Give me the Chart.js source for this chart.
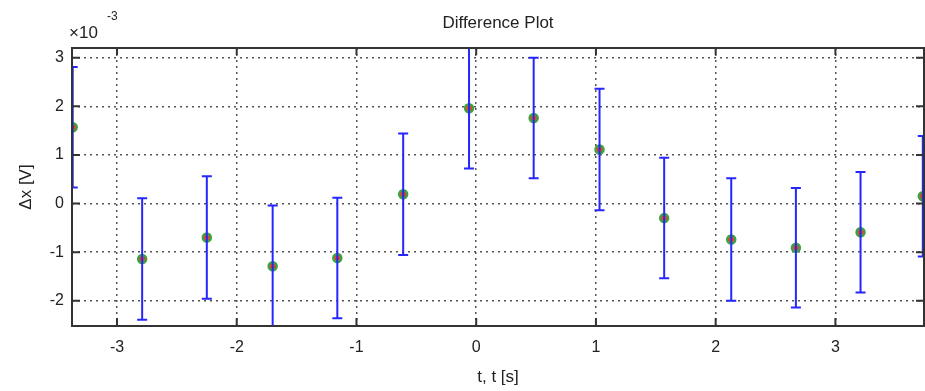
<!DOCTYPE html>
<html>
<head>
<meta charset="utf-8">
<script src="https://cdn.jsdelivr.net/npm/chart.js@4/dist/chart.umd.min.js"></script>
<style>
  html, body { margin: 0; padding: 0; background: #fff; }
  #wrap { width: 925px; height: 391px; }
</style>
</head>
<body>
<div id="wrap"><canvas id="diffPlot"></canvas></div>
<script>
// Difference Plot - delta x con barras de error
const tValues  = [-3.37, -2.79, -2.25, -1.70, -1.16, -0.61, -0.06, 0.48, 1.03, 1.57, 2.13, 2.67, 3.21, 3.73];
const dxValues = [1.57, -1.14, -0.70, -1.29, -1.12, 0.19, 1.96, 1.76, 1.11, -0.30, -0.74, -0.91, -0.59, 0.15]; // x 10^-3 V
const dxErrors = [1.24, 1.25, 1.26, 1.25, 1.24, 1.25, 1.24, 1.24, 1.25, 1.24, 1.26, 1.23, 1.24, 1.24];
const xTicks = [-3, -2, -1, 0, 1, 2, 3];
const yTicks = [-2, -1, 0, 1, 2, 3];

const FONT = "'Liberation Sans', Arial, sans-serif";
const AXIS_COLOR = '#333';

// Barras de error + marco estilo MATLAB
const errorBarPlugin = {
  id: 'errorBars',
  afterDatasetsDraw(chart) {
    const { ctx, chartArea, scales } = chart;
    const xs = scales.x, ys = scales.y;
    ctx.save();
    ctx.beginPath();
    ctx.rect(chartArea.left, chartArea.top, chartArea.right - chartArea.left, chartArea.bottom - chartArea.top);
    ctx.clip();
    ctx.strokeStyle = '#2626ff';
    ctx.lineWidth = 2;
    tValues.forEach((t, i) => {
      const px = xs.getPixelForValue(t);
      const yTop = ys.getPixelForValue(dxValues[i] + dxErrors[i]);
      const yBot = ys.getPixelForValue(dxValues[i] - dxErrors[i]);
      ctx.beginPath();
      ctx.moveTo(px, yTop); ctx.lineTo(px, yBot);
      ctx.moveTo(px - 5, yTop); ctx.lineTo(px + 5, yTop);
      ctx.moveTo(px - 5, yBot); ctx.lineTo(px + 5, yBot);
      ctx.stroke();
    });
    ctx.restore();
  },
  afterDraw(chart) {
    const { ctx, chartArea: a, scales } = chart;
    ctx.save();
    ctx.strokeStyle = AXIS_COLOR;
    ctx.lineWidth = 2;
    ctx.strokeRect(a.left, a.top, a.right - a.left, a.bottom - a.top);
    // ticks hacia adentro
    ctx.beginPath();
    xTicks.forEach(v => {
      const px = scales.x.getPixelForValue(v);
      ctx.moveTo(px, a.bottom); ctx.lineTo(px, a.bottom - 8);
      ctx.moveTo(px, a.top); ctx.lineTo(px, a.top + 7);
    });
    yTicks.forEach(v => {
      const py = scales.y.getPixelForValue(v);
      ctx.moveTo(a.left, py); ctx.lineTo(a.left + 8, py);
      ctx.moveTo(a.right, py); ctx.lineTo(a.right - 8, py);
    });
    ctx.stroke();
    // multiplicador del eje y
    ctx.fillStyle = '#222';
    ctx.textBaseline = 'middle';
    ctx.textAlign = 'left';
    ctx.font = '17px ' + FONT;
    ctx.fillText('\u00d710', 69, 33);
    ctx.font = '12px ' + FONT;
    ctx.fillText('-3', 107, 17);
    ctx.restore();
  }
};

const points = tValues.map((t, i) => ({ x: t, y: dxValues[i] }));

new Chart(document.getElementById('diffPlot'), {
  type: 'scatter',
  data: {
    datasets: [{
      label: 'Difference',
      data: points,
      pointRadius: 4,
      pointBorderWidth: 2.5,
      pointBackgroundColor: '#e8402a',
      pointBorderColor: '#3da33d',
      showLine: false
    }]
  },
  options: {
    responsive: true,
    maintainAspectRatio: false,
    animation: false,
    layout: { autoPadding: false, padding: { left: 0, right: 1, top: 0, bottom: 0 } },
    scales: {
      x: {
        type: 'linear',
        min: -3.376,
        max: 3.74,
        afterBuildTicks: s => { s.ticks = xTicks.map(v => ({ value: v })); },
        afterFit: s => { s.height = 65; },
        ticks: {
          color: '#222',
          font: { family: FONT, size: 16 },
          padding: 12,
          callback: v => String(v)
        },
        grid: { color: '#555', lineWidth: 1.5, drawTicks: false },
        border: { display: false, dash: [2, 4] },
        title: {
          display: true,
          text: 't, t [s]',
          color: '#222',
          font: { family: FONT, size: 17 },
          padding: { top: 3, bottom: 3 }
        }
      },
      y: {
        type: 'linear',
        min: -2.52,
        max: 3.2,
        afterBuildTicks: s => { s.ticks = yTicks.map(v => ({ value: v })); },
        afterFit: s => { s.width = 72; },
        ticks: {
          color: '#222',
          font: { family: FONT, size: 16 },
          padding: 8,
          callback: v => String(v)
        },
        grid: { color: '#555', lineWidth: 1.5, drawTicks: false },
        border: { display: false, dash: [2, 4] },
        title: {
          display: true,
          text: '\u0394x [V]',
          color: '#222',
          font: { family: FONT, size: 17 },
          padding: { top: 16, bottom: 0 }
        }
      }
    },
    plugins: {
      legend: { display: false },
      tooltip: { enabled: false },
      title: {
        display: true,
        text: 'Difference Plot',
        fullSize: false,
        color: '#222',
        font: { family: FONT, size: 17, weight: 'normal' },
        padding: { top: 13, bottom: 14.6 }
      }
    }
  },
  plugins: [errorBarPlugin]
});
</script>
</body>
</html>
